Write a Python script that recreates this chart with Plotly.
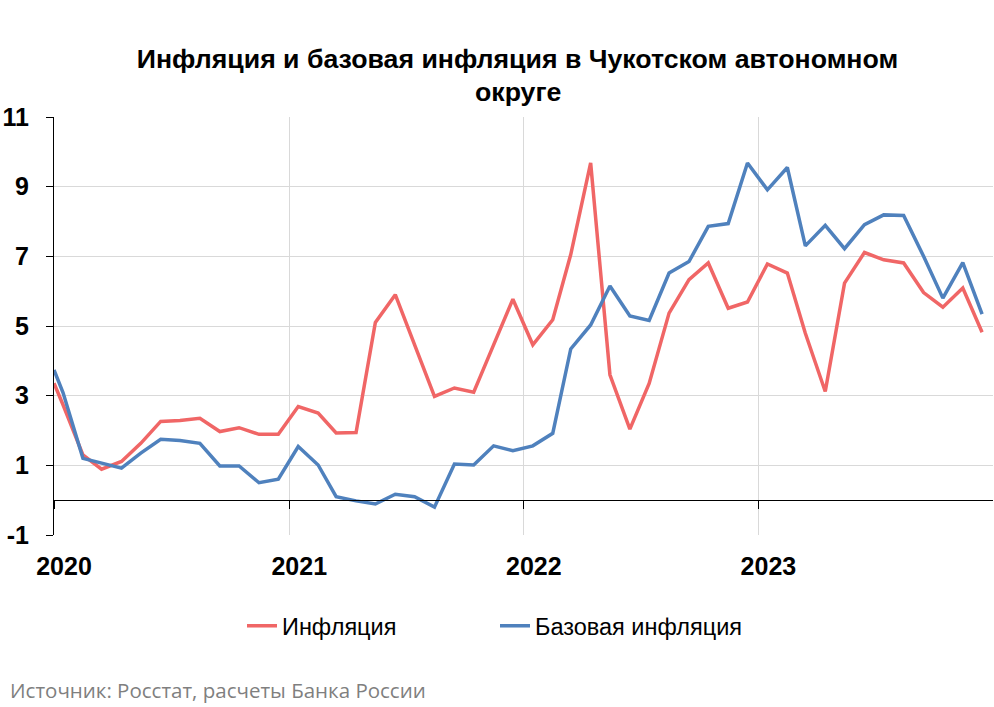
import pandas as pd
import plotly.graph_objects as go

# --- data ---
start_date = "2020-01-01"
months = [d + pd.Timedelta(days=14) for d in pd.date_range("2020-01-01", periods=48, freq="MS")]
dates = [pd.Timestamp(start_date)] + months

inflation_start = 3.36
inflation = [
    2.74, 1.30, 0.89, 1.11, 1.63, 2.26, 2.29, 2.35, 1.97, 2.08, 1.89, 1.89,
    2.69, 2.50, 1.93, 1.94, 5.10, 5.90, 4.45, 2.98, 3.22, 3.10, 4.46, 5.77,
    4.46, 5.18, 7.05, 9.68, 3.60, 2.04, 3.35, 5.37, 6.33, 6.81, 5.51, 5.69,
    6.78, 6.52, 4.79, 3.12, 6.23, 7.11, 6.90, 6.81, 5.96, 5.54, 6.09, 4.82,
]
core_start = 3.74
core = [
    3.09, 1.20, 1.06, 0.92, 1.35, 1.75, 1.71, 1.63, 0.98, 0.98, 0.50, 0.60,
    1.54, 1.01, 0.10, -0.02, -0.11, 0.17, 0.10, -0.20, 1.04, 1.01, 1.56, 1.42,
    1.56, 1.92, 4.34, 5.03, 6.15, 5.29, 5.16, 6.52, 6.85, 7.86, 7.94, 9.68,
    8.91, 9.55, 7.30, 7.89, 7.22, 7.91, 8.19, 8.17, 7.00, 5.80, 6.82, 5.34,
]
year_ticks = ["2020-01-01", "2021-01-01", "2022-01-01", "2023-01-01"]
year_labels = ["2020", "2021", "2022", "2023"]
y_ticks = [-1, 1, 3, 5, 7, 9, 11]
y_labels = ["-1", "1", "3", "5", "7", "9", "11"]

title_line1 = "Инфляция и базовая инфляция в Чукотском автономном"
title_line2 = "округе"
source_text = "Источник: Росстат, расчеты Банка России"

RED = "#F06666"
BLUE = "#4F81BD"
GRID = "#D9D9D9"
FONT = "Liberation Sans, Arial, sans-serif"

fig = go.Figure()
fig.add_trace(go.Scatter(
    x=dates, y=[inflation_start] + inflation, mode="lines", name="Инфляция",
    line=dict(color=RED, width=3.5),
))
fig.add_trace(go.Scatter(
    x=dates, y=[core_start] + core, mode="lines", name="Базовая инфляция",
    line=dict(color=BLUE, width=3.5),
))
# invisible trace to hold the zero-line axis
fig.add_trace(go.Scatter(
    x=[year_ticks[0]], y=[0], xaxis="x2", mode="lines", showlegend=False,
    hoverinfo="skip", line=dict(width=0),
))

x_range = ["2020-01-01", "2024-01-01"]
y_range = [-1, 11]

fig.update_layout(
    width=994, height=707,
    paper_bgcolor="white", plot_bgcolor="white",
    margin=dict(l=54, r=1, t=117, b=172),
    font=dict(family=FONT, color="black"),
    title=dict(
        text=title_line1, x=517.5 / 994, xanchor="center", xref="container",
        y=1 - 59 / 707, yanchor="middle", yref="container",
        font=dict(family=FONT, size=26.7, color="black", weight="bold"),
    ),
    xaxis=dict(
        type="date", range=x_range, tickvals=year_ticks, ticktext=year_labels,
        showgrid=True, gridcolor=GRID, gridwidth=1, zeroline=False,
        showline=False, ticks="", ticklabelshift=10, ticklabelstandoff=14,
        tickfont=dict(family=FONT, size=25, color="black", weight="bold"),
        automargin=False,
    ),
    xaxis2=dict(
        type="date", range=x_range, tickvals=year_ticks, showticklabels=False,
        overlaying="x", anchor="free", position=(0 - y_range[0]) / (y_range[1] - y_range[0]),
        showgrid=False, zeroline=False, showline=True, linecolor="black", linewidth=1,
        ticks="outside", ticklen=8, tickcolor="black", tickwidth=1,
    ),
    yaxis=dict(
        range=y_range, tickvals=y_ticks, ticktext=y_labels,
        showgrid=True, gridcolor=GRID, gridwidth=1,
        zeroline=False, showline=True, linecolor="black", linewidth=1,
        ticks="outside", ticklen=7, tickcolor="black", ticklabelstandoff=12,
        tickfont=dict(family=FONT, size=25, color="black", weight="bold"),
        automargin=False,
    ),
    legend=dict(
        orientation="h", x=(242 - 54) / 939, xanchor="left", y=(535 - 626) / 418, yanchor="middle",
        font=dict(family=FONT, size=23.5, color="black"),
        entrywidth=208, entrywidthmode="pixels", bgcolor="rgba(0,0,0,0)",
    ),
    showlegend=True,
)

fig.add_annotation(
    text=title_line2, xref="paper", yref="paper",
    x=(517.5 - 54) / 939, y=(535 - 92) / 418, xanchor="center", yanchor="middle",
    showarrow=False, font=dict(family=FONT, size=26.7, color="black", weight="bold"),
)
fig.add_annotation(
    text=source_text, xref="paper", yref="paper",
    x=(8 - 54) / 939, y=(535 - 690) / 418, xanchor="left", yanchor="middle",
    showarrow=False, font=dict(family="Open Sans, sans-serif", size=20.5, color="#7F7F7F"),
)

fig.write_html(
    "out.html",
    config={"displayModeBar": False},
    post_script="document.body.style.margin='0';",
)
